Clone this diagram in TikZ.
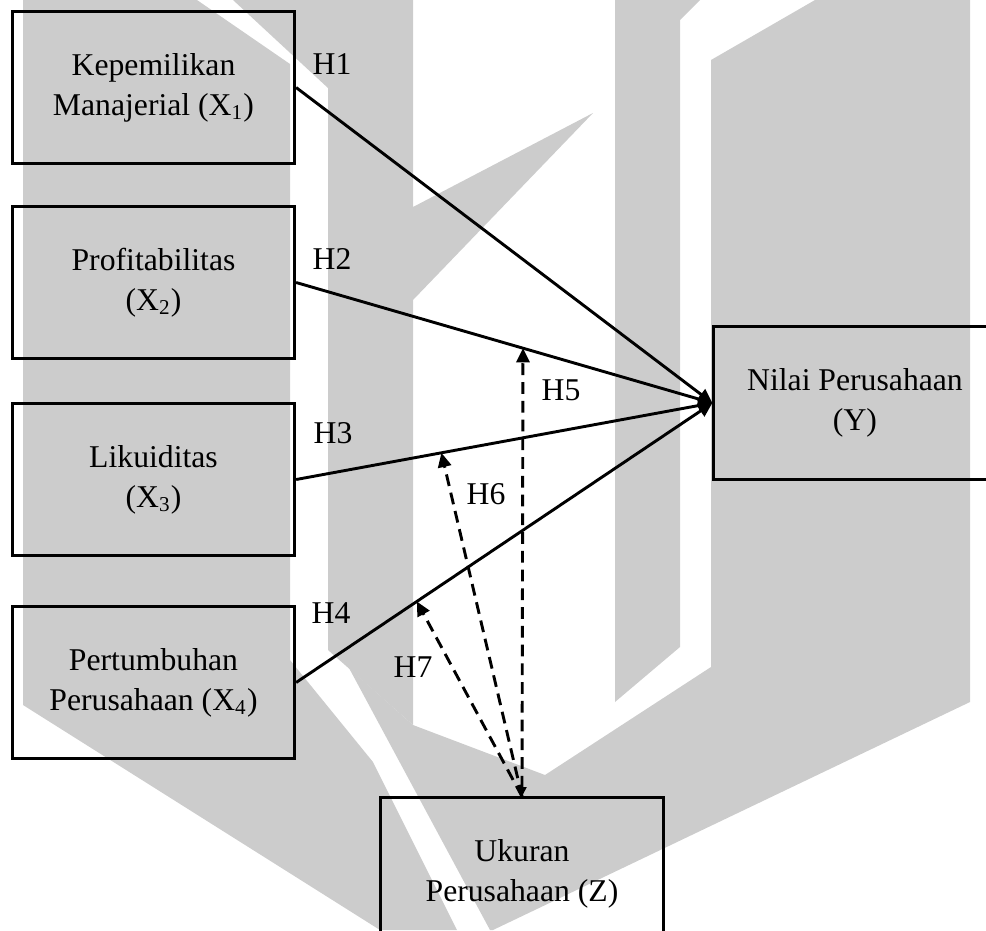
\documentclass[tikz,border=0pt]{standalone}
\usepackage{fontspec}
\setmainfont{Liberation Serif}
\usetikzlibrary{arrows.meta,calc}
\tikzset{
  varbox/.style={draw, line width=1pt, minimum width=3.76cm, minimum height=2.03cm, align=center, inner sep=0pt, font=\fontsize{12}{15.1}\selectfont},
  conn/.style={line width=1.1pt, -{Triangle[length=5.4pt,width=5pt]}},
  modconn/.style={conn, dash pattern=on 4.5pt off 2.6pt},
  hlabel/.style={font=\fontsize{12}{15.1}\selectfont},
  wmark/.style={fill=black!20}
}

\begin{document}
\begin{tikzpicture}[x=0.0133cm,y=-0.0133cm]
\useasboundingbox (0,0) rectangle (986,930);
\clip (0,0) rectangle (986,930);
\fill[wmark] (23,0) -- (197,0) -- (290,64) -- (290,660) -- (373,762) -- (457,930) -- (380,930) -- (23,705) -- cycle;
\fill[wmark] (233,0) -- (413,0) -- (413,207) -- (593,113) -- (413,300) -- (413,725) -- (328,650) -- (328,88) -- cycle;
\fill[wmark] (615,0) -- (700,0) -- (680,20) -- (680,647) -- (615,702) -- cycle;
\fill[wmark] (349,668) -- (413,725) -- (545,775) -- (711,667) -- (711,60) -- (815,0) -- (970,0) -- (970,702) -- (493,930) -- (490,930) -- cycle;

\node[varbox] (x1) at (153.5,87.5) {Kepemilikan\\Manajerial (X\textsubscript{1})};
\node[varbox] (x2) at (153.5,282.5) {Profitabilitas\\(X\textsubscript{2})};
\node[varbox] (x3) at (153.5,479.5) {Likuiditas\\(X\textsubscript{3})};
\node[varbox] (x4) at (153.5,682.5) {Pertumbuhan\\Perusahaan (X\textsubscript{4})};
\node[varbox] (y) at (855,403) {Nilai Perusahaan\\(Y)};
\node[varbox] (z) at (522,874) {Ukuran\\Perusahaan (Z)};

\draw[conn] (x1.east) -- (y.west);
\draw[conn] (x2.east) -- (y.west);
\draw[conn] (x3.east) -- (y.west);
\draw[conn] (x4.east) -- (y.west);

\coordinate (m5) at ($(x2.east)!0.545!(y.west)$);
\coordinate (m6) at ($(x3.east)!0.349!(y.west)$);
\coordinate (m7) at ($(x4.east)!0.29!(y.west)$);
\draw[modconn, {Triangle[length=3.5pt,width=3.3pt]}-{Triangle[length=5.4pt,width=5pt]}] (z.north) -- (m5);
\draw[modconn] (z.north) -- (m6);
\draw[modconn] (z.north) -- (m7);

\node[hlabel] (h1) at (332,64) {H1};
\node[hlabel] (h2) at (332,259) {H2};
\node[hlabel] (h3) at (333,433) {H3};
\node[hlabel] (h4) at (331,613) {H4};
\node[hlabel] (h5) at (561,390) {H5};
\node[hlabel] (h6) at (486,494) {H6};
\node[hlabel] (h7) at (413,667) {H7};
\end{tikzpicture}
\end{document}
